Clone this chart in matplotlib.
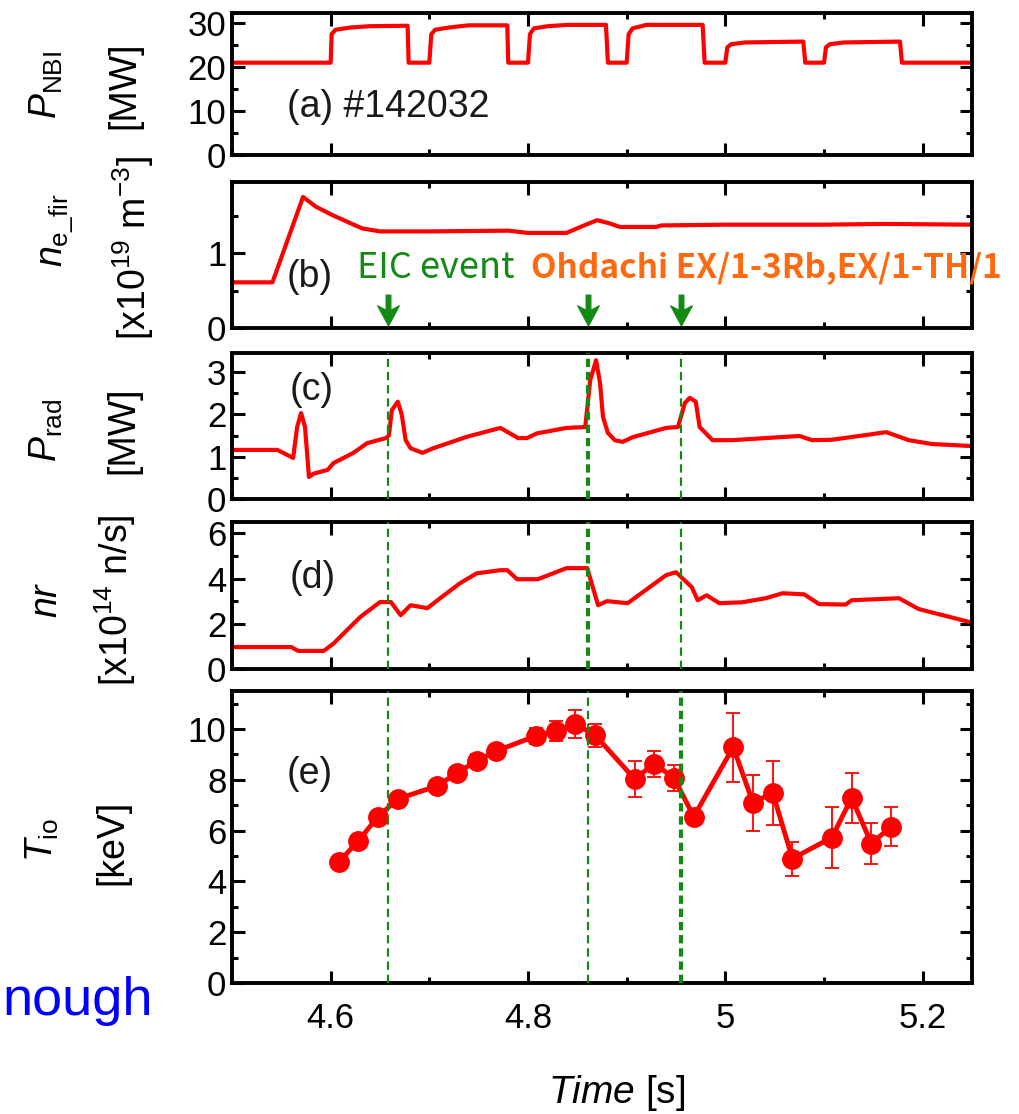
import numpy as np
import matplotlib
matplotlib.use("Agg")
import matplotlib.pyplot as plt
from matplotlib.path import Path

plt.rcParams['font.family'] = ['Liberation Sans', 'DejaVu Sans']
plt.rcParams['mathtext.fontset'] = 'custom'
plt.rcParams['mathtext.rm'] = 'Liberation Sans'
plt.rcParams['mathtext.it'] = 'Liberation Sans:italic'
plt.rcParams['lines.scale_dashes'] = False

# (a) NBI power [MW]
t_nbi = [4.500, 4.600, 4.601, 4.605, 4.620, 4.640, 4.678, 4.679, 4.700, 4.702,
         4.706, 4.720, 4.740, 4.779, 4.780, 4.800, 4.802, 4.806, 4.820, 4.840,
         4.879, 4.881, 4.900, 4.902, 4.906, 4.920, 4.977, 4.979, 5.000, 5.002,
         5.006, 5.020, 5.079, 5.081, 5.100, 5.102, 5.106, 5.120, 5.177, 5.179, 5.250]
p_nbi = [21, 21, 27.5, 28.5, 29.0, 29.3, 29.4, 21, 21, 27.5,
         28.5, 29.0, 29.5, 29.5, 21, 21, 27.5, 28.8, 29.3, 29.6,
         29.6, 21, 21, 27.5, 28.8, 29.6, 29.6, 21, 21, 24.5,
         25.2, 25.6, 25.8, 21, 21, 24.5, 25.2, 25.6, 25.8, 21, 21]

# (b) line density [1e19 m^-3]
t_ne = [4.50, 4.541, 4.572, 4.585, 4.603, 4.62, 4.632, 4.65, 4.70, 4.78, 4.80,
        4.839, 4.855, 4.870, 4.882, 4.893, 4.93, 4.935, 5.0, 5.1, 5.16, 5.25]
ne = [0.61, 0.61, 1.75, 1.62, 1.50, 1.40, 1.33, 1.29, 1.29, 1.30, 1.27,
      1.27, 1.36, 1.44, 1.40, 1.35, 1.35, 1.37, 1.38, 1.38, 1.39, 1.38]

# (c) radiated power [MW]
t_rad = [4.500, 4.546, 4.562, 4.566, 4.570, 4.574, 4.578, 4.583, 4.597, 4.603,
         4.623, 4.637, 4.656, 4.659, 4.662, 4.668, 4.672, 4.676, 4.681, 4.693,
         4.704, 4.738, 4.772, 4.790, 4.799, 4.809, 4.839, 4.858, 4.863, 4.869,
         4.873, 4.876, 4.881, 4.888, 4.896, 4.906, 4.940, 4.952, 4.959, 4.964,
         4.970, 4.974, 4.987, 5.007, 5.075, 5.088, 5.108, 5.142, 5.163, 5.186,
         5.209, 5.250]
p_rad = [1.16, 1.16, 0.97, 1.70, 2.03, 1.70, 0.52, 0.60, 0.69, 0.85,
         1.09, 1.32, 1.44, 1.50, 2.10, 2.30, 2.00, 1.39, 1.20, 1.09,
         1.20, 1.47, 1.68, 1.44, 1.44, 1.55, 1.68, 1.70, 2.80, 3.28,
         2.74, 1.94, 1.56, 1.39, 1.35, 1.46, 1.68, 1.70, 2.27, 2.39,
         2.30, 1.70, 1.39, 1.39, 1.49, 1.39, 1.40, 1.51, 1.58, 1.39,
         1.30, 1.25]

# (d) neutron rate [1e14 n/s]
t_nr = [4.500, 4.560, 4.567, 4.593, 4.603, 4.630, 4.650, 4.661, 4.671, 4.681,
        4.698, 4.711, 4.731, 4.748, 4.772, 4.779, 4.789, 4.810, 4.839, 4.860,
        4.871, 4.880, 4.901, 4.940, 4.950, 4.966, 4.972, 4.981, 4.994, 5.017,
        5.041, 5.058, 5.080, 5.095, 5.122, 5.128, 5.176, 5.196, 5.250]
nr = [0.97, 0.97, 0.80, 0.80, 1.13, 2.30, 2.96, 2.96, 2.38, 2.82,
      2.69, 3.13, 3.79, 4.23, 4.37, 4.37, 3.97, 3.97, 4.46, 4.46,
      2.82, 3.00, 2.91, 4.15, 4.28, 3.62, 3.04, 3.26, 2.91, 2.95,
      3.13, 3.35, 3.30, 2.87, 2.85, 3.04, 3.13, 2.65, 2.05]

# (e) central ion temperature [keV]
t_ti = [4.608, 4.628, 4.648, 4.668, 4.708, 4.728, 4.748, 4.768, 4.808, 4.828,
        4.848, 4.868, 4.908, 4.928, 4.948, 4.968, 5.008, 5.028, 5.048, 5.068,
        5.108, 5.128, 5.148, 5.168]
ti = [4.75, 5.6, 6.55, 7.25, 7.76, 8.27, 8.75, 9.14, 9.73, 9.92,
      10.2, 9.76, 8.04, 8.63, 8.08, 6.55, 9.29, 7.1, 7.49, 4.9,
      5.73, 7.29, 5.49, 6.16]
ti_err = [0.2, 0.2, 0.2, 0.2, 0.2, 0.2, 0.25, 0.25, 0.3, 0.4,
          0.55, 0.45, 0.7, 0.52, 0.5, 0.2, 1.36, 1.1, 1.26, 0.67,
          1.2, 0.98, 0.82, 0.78]

# EIC event times
events = [4.658, 4.861, 4.955]

xticks = [4.6, 4.8, 5.0, 5.2]
xticklabels = ['4.6', '4.8', '5', '5.2']
xminor = [4.5, 4.7, 4.9, 5.1]

W, H = 1020, 1114
fig = plt.figure(figsize=(W / 100, H / 100), dpi=100)


def fx(x):
    return x / W


def fy(y):
    return 1 - y / H


def add_panel(top, bottom):
    return fig.add_axes([fx(232), fy(bottom), fx(972) - fx(232), (bottom - top) / H])


def style(ax, ylim, yticks, yminor):
    ax.set_xlim(4.5, 5.25)
    ax.set_ylim(*ylim)
    ax.set_xticks(xticks)
    ax.set_xticks(xminor, minor=True)
    ax.set_yticks(yticks)
    ax.set_yticks(yminor, minor=True)
    ax.tick_params(which='both', direction='in', top=True, right=True, width=2.2)
    ax.tick_params(which='major', length=9, labelsize=25, pad=4)
    ax.tick_params(which='minor', length=4.5)
    ax.tick_params(axis='x', which='major', pad=14)
    for s in ax.spines.values():
        s.set_linewidth(2.8)


red = '#ff0000'
green = '#138a13'

ax_a = add_panel(13, 155)
ax_a.plot(t_nbi, p_nbi, color=red, lw=3)
style(ax_a, (0, 32.3), [0, 10, 20, 30], [5, 15, 25])

ax_b = add_panel(182, 328)
ax_b.plot(t_ne, ne, color=red, lw=3)
style(ax_b, (0, 1.95), [0, 1], [0.5, 1.5])
arrow = Path([(0, -1), (-0.7, 0.3), (-0.15, 0.0), (-0.15, 1.0), (0.15, 1.0),
              (0.15, 0.0), (0.7, 0.3), (0, -1)],
             [Path.MOVETO] + [Path.LINETO] * 6 + [Path.CLOSEPOLY])
ax_b.plot(events, [0.24] * len(events), ls='none', marker=arrow,
          ms=22, color=green, mec=green)

ax_c = add_panel(353, 499)
ax_c.plot(t_rad, p_rad, color=red, lw=3)
style(ax_c, (0, 3.45), [0, 1, 2, 3], [0.5, 1.5, 2.5])

ax_d = add_panel(522, 669)
ax_d.plot(t_nr, nr, color=red, lw=3)
style(ax_d, (0, 6.5), [0, 2, 4, 6], [1, 3, 5])

ax_e = add_panel(691, 983)
ax_e.errorbar(t_ti, ti, yerr=ti_err, fmt='-o', color=red, ms=14, lw=3.5,
              elinewidth=1.3, capsize=5, capthick=1.3)
style(ax_e, (0, 11.5), [0, 2, 4, 6, 8, 10], [1, 3, 5, 7, 9, 11])
ax_e.set_xticklabels(xticklabels)

for ax in (ax_a, ax_b, ax_c, ax_d):
    ax.set_xticklabels([])

# event lines (widths differ as in the figure)
for ax, widths in ((ax_c, [1.6, 3, 1.6]), (ax_d, [1.6, 3, 1.6]), (ax_e, [1.6, 1.6, 3])):
    for t, w in zip(events, widths):
        ax.axvline(t, color=green, lw=w, ls=(0, (6, 3.5)), zorder=3)

# y labels: (first line, baseline x, centre y), (second line, baseline x, centre y)
ylabels = [
    (r'$P_{\rm NBI}$', 57, 85, '[MW]', 134, 85),
    (r'$n_{\rm e\_fir}$', 62, 230, r'[x10$^{19}$ m$^{-3}$]', 146, 248),
    (r'$P_{\rm rad}$', 57, 430, '[MW]', 133, 430),
    (r'$nr$', 57, 600, r'[x10$^{14}$ n/s]', 128, 600),
    (r'$T_{\rm io}$', 53, 840, '[keV]', 122, 842),
]
for l1, x1, y1, l2, x2, y2 in ylabels:
    fig.text(fx(x1), fy(y1), l1, rotation=90, rotation_mode='anchor',
             ha='center', va='baseline', fontsize=27)
    fig.text(fx(x2), fy(y2), l2, rotation=90, rotation_mode='anchor',
             ha='center', va='baseline', fontsize=27)

# panel tags
for txt, x, y in (('(a) #142032', 287, 107), ('(b)', 287, 277), ('(c)', 290, 390),
                  ('(d)', 290, 578), ('(e)', 287, 774)):
    fig.text(fx(x), fy(y), txt, ha='left', va='center', fontsize=27, color='#1a1a1a')

fig.text(fx(357), fy(268), 'EIC event', ha='left', va='center', fontsize=26,
         color=green, family=['Noto Sans CJK JP', 'DejaVu Sans'])
fig.text(fx(531), fy(268), 'Ohdachi EX/1-3Rb,EX/1-TH/1', ha='left', va='center',
         fontsize=24, fontweight='bold', color='#ff6a10',
         family=['Noto Sans CJK JP', 'DejaVu Sans'])

fig.text(fx(617), fy(1093), r'$\mathit{Time}$ [s]', ha='center', va='center', fontsize=28)
fig.text(fx(2), fy(1015), 'nough', ha='left', va='baseline', fontsize=39, color='#0000ff')

fig.savefig('out.png', dpi=100)
